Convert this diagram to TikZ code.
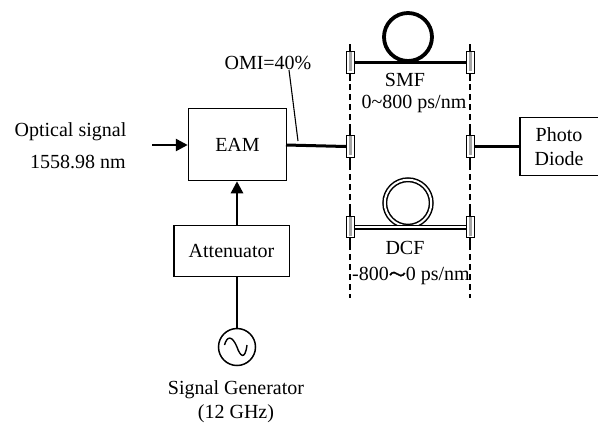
\documentclass[tikz,border=0pt]{standalone}
\usepackage{fontspec}
\setmainfont{Liberation Serif}
\newfontfamily\cjk[RawFeature={embolden=2}]{Noto Sans CJK SC}
\usetikzlibrary{arrows.meta}
\tikzset{
  x=1pt,y=-1pt,
  blockbox/.style={draw,line width=1.5pt,minimum width=#1,inner sep=0pt,font=\fontsize{20}{24}\selectfont,align=center},
  lbl/.style={inner sep=0pt,font=\fontsize{20}{24}\selectfont,align=center},
  conn/.style={draw,line width=1.3pt,fill=white,minimum width=7.8pt,minimum height=21.5pt,inner sep=0pt},
  rail/.style={line width=1.4pt,dash pattern=on 6pt off 4pt},
  railsolid/.style={line width=1.4pt},
  arr/.style={line width=2.6pt,-{Triangle[length=12pt,width=12pt]}},
  fib/.style={line width=3.4pt},
  dfib/.style={line width=1.5pt,double=white,double distance=2pt},
}
\begin{document}
\begin{tikzpicture}
\useasboundingbox (0,0) rectangle (598,424);
% rails
\coordinate (rlt) at (350,44); \coordinate (rlb) at (350,298);
\coordinate (rrt) at (470,44); \coordinate (rrb) at (470,298);
\draw[rail] (rlt)--(rlb);
\draw[rail] (rrt)--(rrb);
% blocks
\node[blockbox=98pt,minimum height=72pt] (eam) at (237.5,144.5) {EAM};
\node[blockbox=115.5pt,minimum height=51pt] (att) at (231.5,251) {Attenuator};
\node[draw,line width=1.5pt,circle,minimum size=37pt,inner sep=0pt] (gen) at (237,347) {};
\draw[line width=1.4pt] (224.5,345) .. controls (227,336) and (232,335) .. (237,347) .. controls (240,356) and (245,361) .. (247,345);
\node[draw,line width=1.5pt,minimum width=90pt,minimum height=58pt,inner sep=0pt,anchor=north west,lbl] (pd) at (519,116.5) {};
% connectors
\foreach \n/\x/\y in {c1/350.5/62.5,c2/470.5/62.5,c3/350.5/146.5,c4/470.5/146.5,c5/350.5/227,c6/470.5/227}{
  \draw[railsolid] (\x-0.5,\y-18)--(\x-0.5,\y+18);
  \node[conn] (\n) at (\x,\y) {};
  \fill[black!35] (\n.north) ++(-1.2,1.2) rectangle ++(2.4,19);
}
% fibres
\node[draw,line width=3.8pt,circle,minimum size=48pt,inner sep=0pt] (smf) at (408,37) {};
\draw[fib] (c1.east)--(c2.west);
\node[draw,dfib,circle,minimum size=46.5pt,inner sep=0pt] (dcf) at (408,203) {};
\draw[dfib] (c5.east)--(c6.west);
\coordinate (eo) at (286,145);
\draw[line width=3pt] (eo)--(c3.west);
\draw[fib] (c4.east)--(pd.west |- c4);
% arrows
\coordinate (in) at (152,145);
\draw[arr] (in)--(eam.west |- in);
\draw[arr] (att.north -| gen)--(eam.south -| gen);
\draw[line width=1.8pt] (att.south -| gen)--(gen.north);
% leader
\coordinate (lt) at (289,70); \coordinate (lb) at (298,141);
\draw[line width=1.1pt] (lt)--(lb);
% labels
\node[lbl] (t1) at (70.5,132) {Optical signal};
\node[lbl] (t2) at (78,162) {1558.98 nm};
\node[lbl] (t3) at (268,63) {OMI=40\%};
\node[lbl] (t4) at (405,80) {SMF};
\node[lbl] (t5) at (414,104) {0\textasciitilde 800 ps/nm};
\node[lbl] (t6) at (405,248) {DCF};
\node[lbl] (t7) at (411,276) {-800{\cjk\fontsize{17}{20}\selectfont ～}0 ps/nm};
\node[lbl] (t8) at (559,135) {Photo};
\node[lbl] (t9) at (559,159) {Diode};
\node[lbl] (t10) at (236,390) {Signal Generator};
\node[lbl] (t11) at (236,414) {(12 GHz)};
\end{tikzpicture}
\end{document}
